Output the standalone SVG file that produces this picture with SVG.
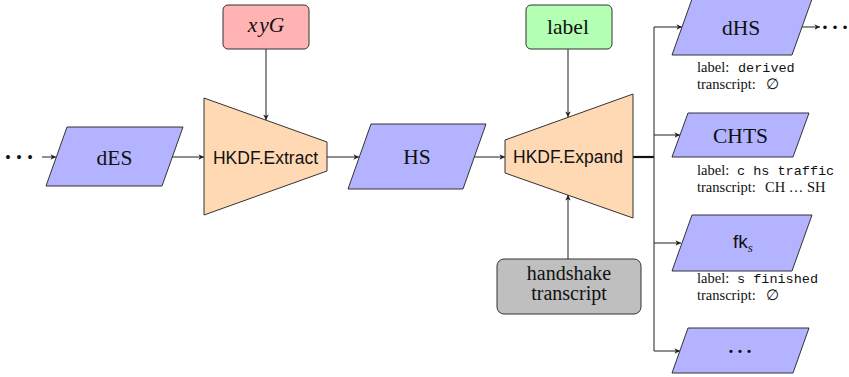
<svg xmlns="http://www.w3.org/2000/svg" width="849" height="377" viewBox="0 0 849 377">
<style>
.para{fill:#b3b3ff;stroke:#333;stroke-width:1}
.trap{fill:#ffd9b3;stroke:#333;stroke-width:1}
.box{stroke:#333;stroke-width:1}
.serif{font-family:"Liberation Serif",serif;fill:#111}
.sans{font-family:"Liberation Sans",sans-serif;fill:#111}
.mono{font-family:"Liberation Mono",monospace;fill:#111}
.big{font-size:21.5px;text-anchor:middle}
.small{font-size:14.5px}
.edge{fill:none;stroke:#333;stroke-width:1.1}
</style>
<defs>
<marker id="ah" markerWidth="8" markerHeight="8" refX="6" refY="4" orient="auto" markerUnits="userSpaceOnUse">
<path d="M0.5,1.2 L6,4 L0.5,6.8 L2,4 Z" fill="#222"/>
</marker>
</defs>
<rect width="849" height="377" fill="#fff"/>

<g id="connectors">
<text class="serif" x="19" y="159" font-size="33" text-anchor="middle">…</text>
<line class="edge" x1="42" y1="157" x2="56" y2="157" marker-end="url(#ah)"/>
<line class="edge" x1="172" y1="157" x2="204" y2="157" marker-end="url(#ah)"/>
<line class="edge" x1="266" y1="49" x2="266" y2="120" marker-end="url(#ah)"/>
<line class="edge" x1="327" y1="157" x2="359" y2="157" marker-end="url(#ah)"/>
<line class="edge" x1="474" y1="157" x2="505" y2="157" marker-end="url(#ah)"/>
<line class="edge" x1="568" y1="49" x2="568" y2="117" marker-end="url(#ah)"/>
<line class="edge" x1="568" y1="259" x2="568" y2="195" marker-end="url(#ah)"/>
<line x1="633" y1="157" x2="654" y2="157" stroke="#111" stroke-width="2.2"/>
<line class="edge" x1="654" y1="27" x2="654" y2="351" stroke-width="1.6"/>
<line class="edge" x1="654" y1="27" x2="682" y2="27" marker-end="url(#ah)"/>
<line class="edge" x1="654" y1="135" x2="680" y2="135" marker-end="url(#ah)"/>
<line class="edge" x1="654" y1="243" x2="681" y2="243" marker-end="url(#ah)"/>
<line class="edge" x1="654" y1="351" x2="680" y2="351" marker-end="url(#ah)"/>
<line class="edge" x1="802" y1="27" x2="820" y2="27" marker-end="url(#ah)"/>
<text class="serif" x="835" y="29" font-size="30" text-anchor="middle">…</text>
</g>

<g id="dES">
<polygon class="para" points="67,127 183,127 162,186 46,186"/>
<text class="serif big" x="114.5" y="165">dES</text>
</g>

<g id="xyG">
<rect class="box" x="223" y="5" width="86" height="44" rx="5" fill="#ffb3b3"/>
<text class="serif big" x="266" y="32" font-style="italic">x<tspan dx="2">y</tspan>G</text>
</g>

<g id="extract">
<polygon class="trap" points="204,98 327,142 327,171 204,215"/>
<text class="sans" x="265.5" y="164" font-size="17.5" text-anchor="middle">HKDF.Extract</text>
</g>

<g id="HS">
<polygon class="para" points="371,124 486,124 463,189 348,189"/>
<text class="serif big" x="417" y="164">HS</text>
</g>

<g id="label">
<rect class="box" x="526" y="5" width="86" height="44" rx="5" fill="#b3ffb3"/>
<text class="serif big" x="568" y="34">label</text>
</g>

<g id="expand">
<polygon class="trap" points="505,140 633,94 633,218 505,173"/>
<text class="sans" x="568" y="163" font-size="17.5" text-anchor="middle">HKDF.Expand</text>
</g>

<g id="transcript">
<rect class="box" x="497" y="259" width="144" height="55" rx="7" fill="#bfbfbf"/>
<text class="serif" x="569" y="280" font-size="20" text-anchor="middle">handshake</text>
<text class="serif" x="569" y="300" font-size="20" text-anchor="middle">transcript</text>
</g>

<g id="dHS">
<polygon class="para" points="692,-1 812,-1 792,55 672,55"/>
<text class="serif big" x="741" y="35">dHS</text>
<text class="serif small" x="697" y="72">label:<tspan class="mono" x="738" font-size="13.5">derived</tspan></text>
<text class="serif small" x="697" y="89">transcript:<tspan x="766">∅</tspan></text>
</g>

<g id="CHTS">
<polygon class="para" points="688,113 809,113 793,157 672,157"/>
<text class="serif big" x="740.5" y="143">CHTS</text>
<text class="serif small" x="697" y="175">label:<tspan class="mono" x="737" font-size="13.5">c hs traffic</tspan></text>
<text class="serif small" x="697" y="192">transcript:<tspan x="765">CH … SH</tspan></text>
</g>

<g id="fks">
<polygon class="para" points="692,215 812,215 792,271 672,271"/>
<text class="sans" x="733" y="248" font-size="19">fk<tspan class="serif" font-style="italic" font-size="13" dy="4">s</tspan></text>
<text class="serif small" x="697" y="283">label:<tspan class="mono" x="737" font-size="13.5">s finished</tspan></text>
<text class="serif small" x="697" y="300">transcript:<tspan x="766">∅</tspan></text>
</g>

<g id="more">
<polygon class="para" points="688,328 809,328 793,373 672,373"/>
<text class="serif" x="740" y="353" font-size="27" text-anchor="middle">…</text>
</g>
</svg>
